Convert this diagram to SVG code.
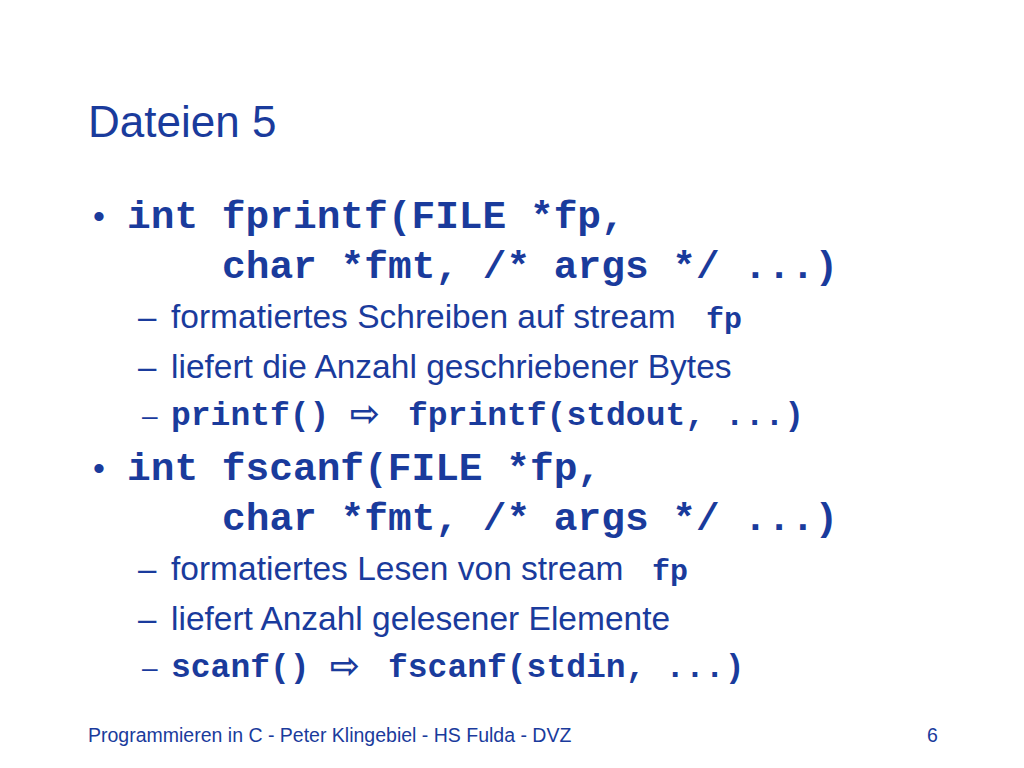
<svg xmlns="http://www.w3.org/2000/svg" width="1024" height="768" viewBox="0 0 1024 768">
<style>
text{fill:#1a3b9c}
.s{font-family:"Liberation Sans",Arial,sans-serif}
.m{font-family:"Liberation Mono","Courier New",monospace;font-weight:bold}
.a{font-family:"DejaVu Sans",sans-serif;font-weight:bold}
</style>
<rect width="1024" height="768" fill="#fff"/>
<text class="s" x="88" y="137" font-size="44">Dateien 5</text>
<g xml:space="preserve">
<text class="s" x="93" y="228" font-size="34">•</text>
<text class="m" x="127" y="228" font-size="39.5">int fprintf(FILE *fp,</text>
<text class="m" x="222" y="278" font-size="39.5">char *fmt, /* args */ ...)</text>
<text class="s" x="138" y="328" font-size="33">–</text>
<text class="s" x="171" y="328" font-size="33.5">formatiertes Schreiben auf stream</text>
<text class="m" x="706" y="328" font-size="30">fp</text>
<text class="s" x="138" y="378" font-size="33">–</text>
<text class="s" x="171" y="378" font-size="33.5">liefert die Anzahl geschriebener Bytes</text>
<text class="s" x="142" y="425" font-size="28">–</text>
<text class="m" x="171" y="425" font-size="33">printf()</text>
<text class="a" x="350" y="426" font-size="36">⇨</text>
<text class="m" x="408" y="425" font-size="33">fprintf(stdout, ...)</text>

<text class="s" x="93" y="480" font-size="34">•</text>
<text class="m" x="127" y="480" font-size="39.5">int fscanf(FILE *fp,</text>
<text class="m" x="222" y="530" font-size="39.5">char *fmt, /* args */ ...)</text>
<text class="s" x="138" y="580" font-size="33">–</text>
<text class="s" x="171" y="580" font-size="33.5">formatiertes Lesen von stream</text>
<text class="m" x="652" y="580" font-size="30">fp</text>
<text class="s" x="138" y="630" font-size="33">–</text>
<text class="s" x="171" y="630" font-size="33.5">liefert Anzahl gelesener Elemente</text>
<text class="s" x="142" y="677" font-size="28">–</text>
<text class="m" x="171" y="677" font-size="33">scanf()</text>
<text class="a" x="330" y="678" font-size="36">⇨</text>
<text class="m" x="388" y="677" font-size="33">fscanf(stdin, ...)</text>
</g>
<text class="s" x="88" y="742" font-size="19.5">Programmieren in C - Peter Klingebiel - HS Fulda - DVZ</text>
<text class="s" x="927" y="742" font-size="19.5">6</text>
</svg>
